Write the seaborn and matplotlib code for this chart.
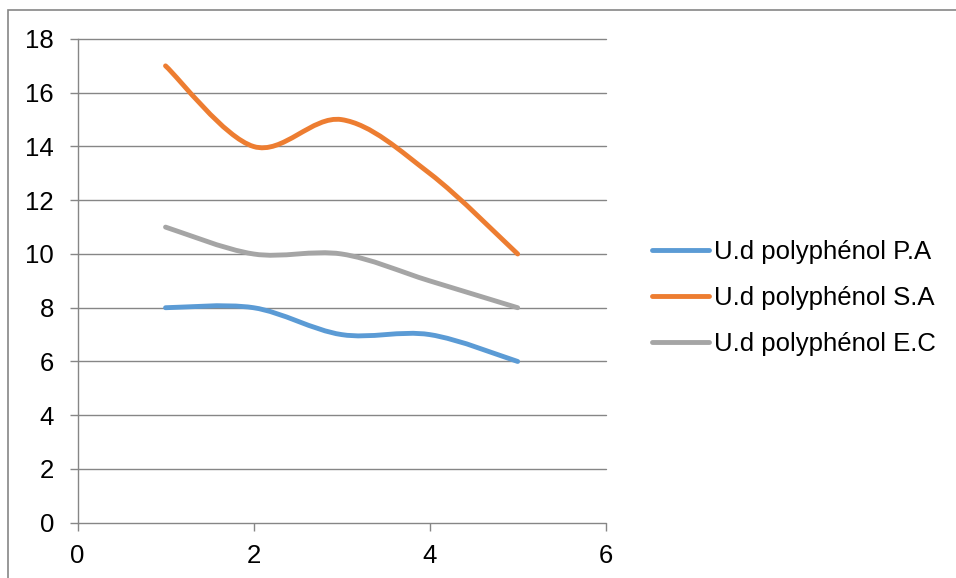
import numpy as np
import matplotlib
matplotlib.use("Agg")
import matplotlib.pyplot as plt
from matplotlib.path import Path
from matplotlib.patches import PathPatch, Rectangle
from matplotlib.lines import Line2D
import seaborn as sns

# données
x_vals = [1, 2, 3, 4, 5]
pa_vals = [8, 8, 7, 7, 6]
sa_vals = [17, 14, 15, 13, 10]
ec_vals = [11, 10, 10, 9, 8]
series_names = ["U.d polyphénol P.A", "U.d polyphénol S.A", "U.d polyphénol E.C"]
y_ticks = [0, 2, 4, 6, 8, 10, 12, 14, 16, 18]
x_ticks = [0, 2, 4, 6]

colors = ["#5B9BD5", "#ED7D31", "#A5A5A5"]
grid_col = "#868686"

sns.set_theme(style="white")
plt.rcParams['font.family'] = ['Liberation Sans', 'DejaVu Sans']
plt.rcParams['font.size'] = 18.5
plt.rcParams['text.color'] = 'black'


def smooth_path(xs, ys):
    # courbe lissée façon Excel (Bézier cubique, type Catmull-Rom)
    pts = np.column_stack([xs, ys]).astype(float)
    n = len(pts)
    verts = [pts[0]]
    codes = [Path.MOVETO]
    for i in range(n - 1):
        p_prev = pts[max(i - 1, 0)]
        p0 = pts[i]
        p1 = pts[i + 1]
        p_next = pts[min(i + 2, n - 1)]
        c1 = p0 + (p1 - p_prev) / 6.0
        c2 = p1 - (p_next - p0) / 6.0
        verts += [c1, c2, p1]
        codes += [Path.CURVE4] * 3
    return Path(verts, codes)


fig = plt.figure(figsize=(9.56, 5.78), dpi=100)
ax = fig.add_axes([77.5 / 956, 1 - 522.7 / 578, (605.7 - 77.5) / 956, (522.7 - 39) / 578])

handles = []
for ys, col, name in zip([pa_vals, sa_vals, ec_vals], colors, series_names):
    patch = PathPatch(smooth_path(x_vals, ys), facecolor="none", edgecolor=col,
                      lw=3.5, capstyle="round", joinstyle="round", zorder=3)
    ax.add_patch(patch)
    handles.append(Line2D([0], [0], color=col, lw=3.5, solid_capstyle="round", label=name))

ax.set_xlim(0, 6)
ax.set_ylim(0, 18)
ax.set_xticks(x_ticks)
ax.set_yticks(y_ticks)
for y in y_ticks:
    ax.axhline(y, color=grid_col, lw=1.0, zorder=1, clip_on=False)

for s in ["top", "right", "bottom"]:
    ax.spines[s].set_visible(False)
ax.spines["left"].set_color(grid_col)
ax.spines["left"].set_linewidth(1.0)
ax.tick_params(axis="y", direction="out", length=6, width=1, color=grid_col, pad=11,
               left=True, labelsize=18.5, labelcolor="black")
ax.tick_params(axis="x", direction="out", length=6, width=1, color=grid_col, pad=9,
               bottom=True, labelsize=18.5, labelcolor="black")
ax.set_xlabel("")
ax.set_ylabel("")

ax.legend(handles=handles, loc="center left", bbox_to_anchor=(652 / 956, 1 - 298 / 578),
          bbox_transform=fig.transFigure, frameon=False, borderpad=0, borderaxespad=0,
          handlelength=2.2, handletextpad=0.2, labelspacing=0.85, fontsize=18.5,
          labelcolor="black")

# cadre extérieur du graphique
fig.patches.append(Rectangle((8 / 956, -0.1), 1.2, 1.1 - 10 / 578, transform=fig.transFigure,
                             fill=False, edgecolor=grid_col, lw=1.2, clip_on=False))

plt.savefig("out.png", dpi=100)
